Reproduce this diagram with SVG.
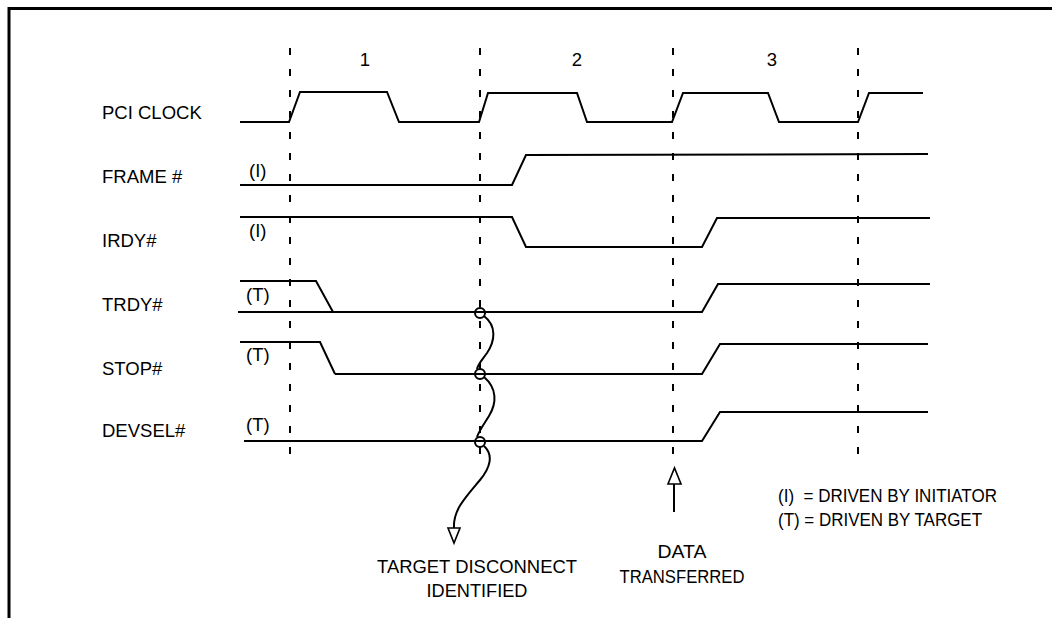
<svg xmlns="http://www.w3.org/2000/svg" width="1052" height="618" viewBox="0 0 1052 618">
<style>
text{font-family:"Liberation Sans",Arial,sans-serif;font-size:18.5px;fill:#000}
.w{fill:none;stroke:#000;stroke-width:2;stroke-linejoin:miter}
.d{fill:none;stroke:#000;stroke-width:2;stroke-dasharray:7 14}
.c{fill:none;stroke:#000;stroke-width:2}
.a{fill:#fff;stroke:#000;stroke-width:1.6}
.m{text-anchor:middle}
</style>
<rect width="1052" height="618" fill="#fff"/>
<path d="M9,618 V8.5 H1052" fill="none" stroke="#000" stroke-width="3"/>
<g id="gridlines">
<line class="d" x1="290" y1="48" x2="290" y2="460"/>
<line class="d" x1="480" y1="48" x2="480" y2="460"/>
<line class="d" x1="673" y1="48" x2="673" y2="456"/>
<line class="d" x1="858" y1="48" x2="858" y2="460"/>
<text class="m" x="365" y="66">1</text>
<text class="m" x="577" y="66">2</text>
<text class="m" x="772" y="66">3</text>
</g>
<g id="pci-clock">
<text x="102" y="119">PCI CLOCK</text>
<polyline class="w" points="240,122 289,122 300,92 387,92 399,122 479,122 488,93 577,93 587,122 672,122 683,93 768,93 779,122 858,122 869,93 923,93"/>
</g>
<g id="frame">
<text x="102" y="183">FRAME #</text>
<text x="249" y="177">(I)</text>
<polyline class="w" points="240,185 512,185 526,155 928,154"/>
</g>
<g id="irdy">
<text x="102" y="247">IRDY#</text>
<text x="249" y="237">(I)</text>
<polyline class="w" points="240,217 512,217 526,247 702,247 717,218 930,218"/>
</g>
<g id="trdy">
<text x="102" y="311">TRDY#</text>
<text x="246" y="301">(T)</text>
<polyline class="w" points="240,281 316,281 333,312"/>
<polyline class="w" points="238,312 702,312 718,284 930,284"/>
</g>
<g id="stop">
<text x="102" y="375">STOP#</text>
<text x="246" y="361">(T)</text>
<polyline class="w" points="240,342 320,342 335,374"/>
<polyline class="w" points="335,374 702,374 720,344 928,344"/>
</g>
<g id="devsel">
<text x="102" y="437">DEVSEL#</text>
<text x="246" y="431">(T)</text>
<polyline class="w" points="244,441 702,441 720,412 928,412"/>
</g>
<g id="connectors">
<circle class="c" cx="480" cy="313" r="5"/>
<circle class="c" cx="480" cy="374" r="5"/>
<circle class="c" cx="480" cy="442" r="5"/>
<path class="c" d="M484,316 C497,326 495,341 487,353 C482,360 478,364 477,369"/>
<path class="c" d="M484,377 C497,388 497,403 489,416 C484,424 479,431 477,437"/>
<path class="c" d="M484,446 C494,455 490,468 480,480 C465,498 453,510 454,528"/>
<polygon class="a" points="448,528 460,528 454,543"/>
<line class="c" x1="674" y1="512" x2="674" y2="484"/>
<polygon class="a" points="668,484 681,484 674.5,468"/>
</g>
<g id="annotations">
<text class="m" x="477" y="573" textLength="200" lengthAdjust="spacingAndGlyphs">TARGET DISCONNECT</text>
<text class="m" x="477" y="597" textLength="101" lengthAdjust="spacingAndGlyphs">IDENTIFIED</text>
<text class="m" x="682" y="558" textLength="49" lengthAdjust="spacingAndGlyphs">DATA</text>
<text class="m" x="682" y="583" textLength="125" lengthAdjust="spacingAndGlyphs">TRANSFERRED</text>
</g>
<g id="legend">
<text x="778" y="502" style="white-space:pre" textLength="219" lengthAdjust="spacingAndGlyphs">(I)  = DRIVEN BY INITIATOR</text>
<text x="778" y="526" textLength="204" lengthAdjust="spacingAndGlyphs">(T) = DRIVEN BY TARGET</text>
</g>
</svg>
